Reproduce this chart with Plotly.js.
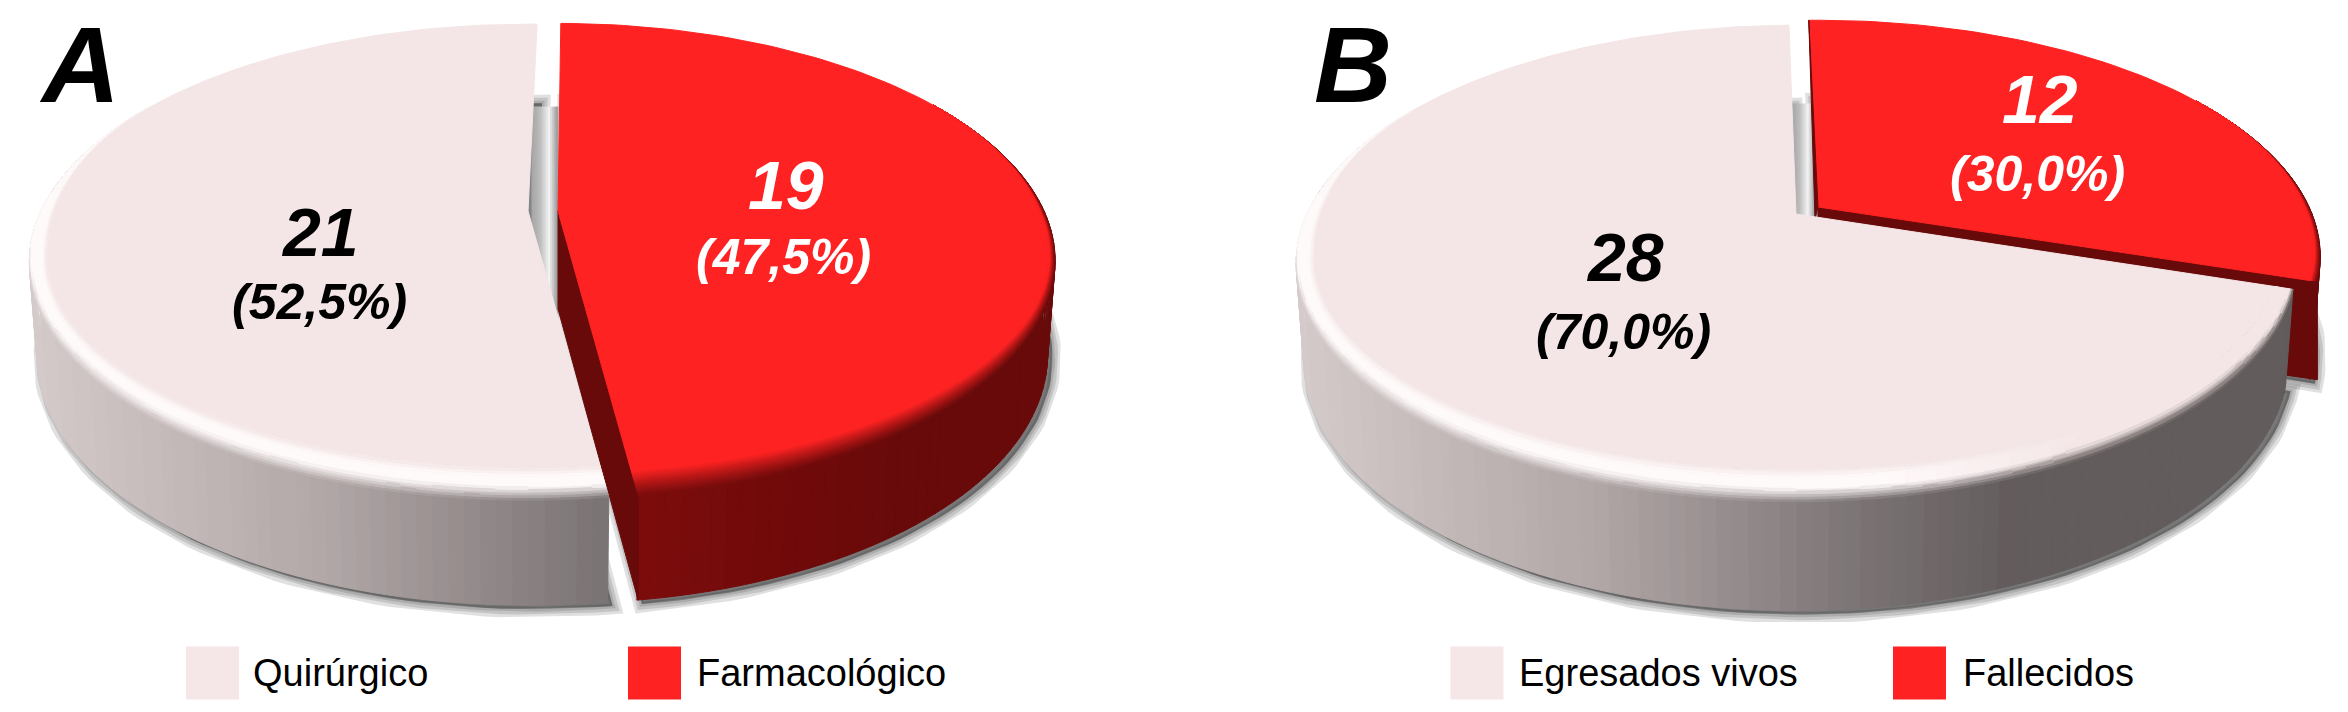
<!DOCTYPE html>
<html>
<head>
<meta charset="utf-8">
<script src="https://cdn.plot.ly/plotly-3.0.1.min.js"></script>
<style>html,body{margin:0;padding:0;background:#fff;overflow:hidden}#chart{width:2348px;height:712px}</style>
</head>
<body>
<div id="chart"></div>
<script>
// ---- data ----
const categoriesA = ['Quirúrgico', 'Farmacológico'];
const valuesA = [21, 19];
const categoriesB = ['Egresados vivos', 'Fallecidos'];
const valuesB = [28, 12];
const panelNames = ['A', 'B'];

// ---- style / geometry ----
const FACE_L = [243, 230, 230], FACE_R = [253, 34, 34];
const LEG_L = '#f5e6e8', LEG_R = '#ff2222';

function clamp(v, a, b) { return Math.max(a, Math.min(b, v)); }
function mix(c1, c2, t) { return c1.map((c, i) => c + (c2[i] - c) * t); }
function ramp(stops, x) {
  if (x <= stops[0][0]) return stops[0][1];
  for (let i = 1; i < stops.length; i++) {
    if (x <= stops[i][0]) return mix(stops[i - 1][1], stops[i][1], (x - stops[i - 1][0]) / (stops[i][0] - stops[i - 1][0]));
  }
  return stops[stops.length - 1][1];
}
function css(c) { return 'rgb(' + c.map(v => Math.round(clamp(v, 0, 255) / 2) * 2).join(',') + ')'; }

const greyStops = [[0, [212, 202, 202]], [300, [176, 166, 166]], [570, [122, 115, 115]], [720, [98, 91, 91]], [1100, [98, 91, 91]]];
const redStops = [[0, [124, 12, 12]], [260, [104, 9, 9]], [700, [104, 9, 9]]];

function makeWedge(o) {
  o.P = function (deg, t) {
    const th = deg * Math.PI / 180, u = Math.sin(th), v = Math.cos(th), w = 1 + o.p * v;
    let x = o.X0 + o.a * u / w, y = o.Y0 - o.b * v / w;
    if (t) {
      const e = clamp((0.45 - v) / 0.6, 0, 1);
      x -= t * e * u * o.insetX;
      y -= t * e * Math.max(0, -v) * o.insetY;
      [[o.s, 1], [o.e, -1]].forEach(([db, sgn]) => {
        if (Math.abs(deg - db) > 28) return;
        const B = o.P(db, 0), dx = B[0] - o.X0, dy = B[1] - o.Y0, L = Math.hypot(dx, dy);
        const nx = -dy / L * sgn, ny = dx / L * sgn;
        const s = (x - o.X0) * nx + (y - o.Y0) * ny;
        if (s < 0 || deg === db) { x -= s * nx; y -= s * ny; }   // the end of the arc stays on the slice's straight edge
      });
    }
    return [x, y];
  };
  o.H = function (deg) { return o.h0 + o.h1 * (-Math.cos(deg * Math.PI / 180)); };
  o.Bot = function (deg) {
    const q = o.P(deg, 0);
    return [o.X0 + (q[0] - o.X0) * 0.985, q[1] + o.H(deg)];
  };
  return o;
}

function newStage() { return new Map(); }
function poly(stage, color, pts) {
  if (!stage.has(color)) stage.set(color, { x: [], y: [] });
  const g = stage.get(color);
  pts.forEach(p => { g.x.push(p[0]); g.y.push(p[1]); });
  g.x.push(pts[0][0], null); g.y.push(pts[0][1], null);
}
const STEP = 1.5;
function angles(w) {
  const r = [];
  for (let d = w.s; d < w.e; d += STEP) r.push(d);
  r.push(w.e);
  return r;
}
function drawShadow(w) {
  const pts = [[w.X0, w.Y0 + w.h0]].concat(angles(w).map(d => w.Bot(d))).map(q => [q[0] + 5, q[1] + 4]);
  [17, 11, 5].forEach(lw => {
    traces.push({
      type: 'scatter', mode: 'lines', x: pts.map(q => q[0]).concat(pts[0][0]), y: pts.map(q => q[1]).concat(pts[0][1]),
      line: { color: 'rgba(0,0,0,0.12)', width: lw }, fill: 'toself', fillcolor: 'rgba(90,90,90,0.3)',
      hoverinfo: 'skip', showlegend: false
    });
  });
}
function drawSide(w, colorOf) {
  const st = newStage(), as = angles(w);
  for (let i = 0; i < as.length - 1; i++) {
    const d0 = as[i], d1 = as[i + 1];
    if (Math.cos(d0 * Math.PI / 180) > 0.45 && Math.cos(d1 * Math.PI / 180) > 0.45) continue;
    const a = w.P(d0, 0), b = w.P(d1, 0), c = w.Bot(d1), e = w.Bot(d0);
    poly(st, css(colorOf((a[0] + b[0]) / 2)), [a, b, c, e]);
  }
  push(st);
}
function drawTop(w, rimColor, face) {
  const st = newStage(), as = angles(w), N = 12;
  for (let k = 0; k < N; k++) {
    const t0 = k / N, t1 = (k + 1) / N;
    for (let i = 0; i < as.length - 1; i++) {
      const d0 = as[i], d1 = as[i + 1];
      if (Math.cos(d0 * Math.PI / 180) > 0.5 && Math.cos(d1 * Math.PI / 180) > 0.5) continue;
      const a = w.P(d0, t0), b = w.P(d1, t0), c = w.P(d1, t1), e = w.P(d0, t1);
      poly(st, css(rimColor((a[0] + b[0]) / 2, (t0 + t1) / 2, (d0 + d1) / 2)), [a, b, c, e]);
    }
  }
  const inner = newStage();
  const pts = [[w.X0, w.Y0]].concat(as.map(d => w.P(d, Math.cos(d * Math.PI / 180) > 0.5 ? 0 : 1)));
  poly(inner, css(face), pts);
  push(inner);
  push(st);
}
function push(stage) {
  stage.forEach((g, color) => traces.push({
    type: 'scatter', mode: 'lines', x: g.x, y: g.y, fill: 'toself', fillcolor: color,
    line: { color: color, width: 1 }, hoverinfo: 'skip', showlegend: false, connectgaps: false
  }));
}
function drawGap(g) {
  const st = newStage(), n = 14;
  const stops = [[0, [165, 165, 165]], [0.3, [185, 185, 185]], [0.68, [242, 242, 242]], [1, [150, 150, 150]]];
  for (let i = 0; i < n; i++) {
    const x0 = g.xl + (g.xr - g.xl) * i / n, x1 = g.xl + (g.xr - g.xl) * (i + 1) / n;
    poly(st, css(ramp(stops, (i + 0.5) / n)), [[x0, g.yt], [x1, g.yt], [x1, g.yb], [x0, g.yb]]);
  }
  push(st);
}
function redWall(w, deg) {
  const st = newStage(), A = [w.X0, w.Y0], B = w.P(deg, 0);
  poly(st, css([104, 10, 10]), [A, B, [B[0], B[1] + w.H(deg)], [A[0], A[1] + w.h0 + 8]]);
  push(st);
}

function drawPie(values, cfg) {
  const sum = values[0] + values[1];
  const split = 360 * values[1] / sum + cfg.splitTilt;   // red slice runs clockwise from 12 o'clock
  const L = makeWedge(Object.assign({}, cfg.light, { s: split, e: 360 + cfg.light.topTilt, insetX: 18, insetY: 32 }));
  const R = makeWedge(Object.assign({}, cfg.red, { s: cfg.red.topTilt, e: split, insetX: 7, insetY: 30 }));
  const left = L.X0 - L.a * 1.02;
  const sideL = x => ramp(greyStops, x - left);
  const sideR = x => ramp(redStops, x - R.X0 - 80);
  drawShadow(R); drawShadow(L);
  drawGap(cfg.gap);
  drawSide(R, sideR);
  redWall(R, split);
  drawTop(R, (x, t) => t < 0.85 ? mix(sideR(x), FACE_R, Math.pow(t / 0.85, 1.2)) : FACE_R, FACE_R);
  if (cfg.sliver) {
    const st = newStage(), A = R.P(R.s, 0);
    poly(st, css([104, 10, 10]), [A, [R.X0, R.Y0], [R.X0 - 3, R.Y0 + 12]]);
    push(st);
  }
  drawSide(L, sideL);
  drawTop(L, (x, t, d) => {
    const v = Math.cos(d * Math.PI / 180);
    const xr = (x - left) / (2 * L.a);
    const W = mix([255, 250, 250], FACE_L, clamp((xr - 0.6) / 0.2, 0, 1));
    const t0 = 0.42 * clamp((-v - 0.1) / 0.5, 0, 1);
    if (t < t0) return mix(sideL(x), W, t / t0);
    if (t < 0.78) return W;
    return mix(W, FACE_L, (t - 0.78) / 0.22);
  }, FACE_L);
}

const traces = [];
drawPie(valuesA, {
  splitTilt: 1.5,
  light: { X0: 528, Y0: 211, a: 487, b: 227, p: 0.215, h0: 90, h1: 15, topTilt: 1.3 },
  red: { X0: 558, Y0: 211, a: 486, b: 227, p: 0.21, h0: 90, h1: 15, topTilt: 0.4 },
  gap: { xl: 532, xr: 558, yt: 107, yb: 322 }
});
drawPie(valuesB, {
  splitTilt: 0,
  light: { X0: 1796, Y0: 214, a: 489, b: 228, p: 0.2075, h0: 93, h1: 16, topTilt: -1 },
  red: { X0: 1818, Y0: 207, a: 491, b: 226, p: 0.21, h0: 93, h1: 16, topTilt: -1.3 },
  gap: { xl: 1792, xr: 1816, yt: 104, yb: 232 },
  sliver: true
});

const legendNames = categoriesA.concat(categoriesB);
const legendColors = [LEG_L, LEG_R, LEG_L, LEG_R];
const legendSwatchX = [212.5, 654.5, 1477, 1919.5];
const legendTextX = [253, 697, 1519, 1963];
const legendY = 673;
traces.push({
  type: 'scatter', mode: 'markers', x: legendSwatchX, y: legendSwatchX.map(() => legendY),
  marker: { symbol: 'square', size: 53, color: legendColors, line: { width: 0 } }, hoverinfo: 'skip', showlegend: false
});
traces.push({
  type: 'scatter', mode: 'text', x: legendTextX, y: legendTextX.map(() => legendY + 3), text: legendNames,
  textposition: 'middle right', textfont: { family: 'Liberation Sans', size: 38, color: '#000' }, hoverinfo: 'skip', showlegend: false
});

function pct(v, vals) { return '(' + (100 * v / (vals[0] + vals[1])).toFixed(1).replace('.', ',') + '%)'; }
function ann(x, y, text, size, color) {
  return { x, y, xref: 'x', yref: 'y', text: '<b><i>' + text + '</i></b>', showarrow: false, xanchor: 'center', yanchor: 'middle',
    font: { family: 'Liberation Sans', size, color } };
}
const annotations = [
  ann(79, 64, panelNames[0], 108, '#000'), ann(1353, 64, panelNames[1], 108, '#000'),
  ann(320, 232, String(valuesA[0]), 68, '#000'), ann(319, 302, pct(valuesA[0], valuesA), 50, '#000'),
  ann(786, 185, String(valuesA[1]), 68, '#fff'), ann(783, 257, pct(valuesA[1], valuesA), 50, '#fff'),
  ann(1625, 257, String(valuesB[0]), 68, '#000'), ann(1623, 332, pct(valuesB[0], valuesB), 50, '#000'),
  ann(2040, 99, String(valuesB[1]), 68, '#fff'), ann(2037, 174, pct(valuesB[1], valuesB), 50, '#fff')
];

Plotly.newPlot('chart', traces, {
  width: 2348, height: 712, margin: { l: 0, r: 0, t: 0, b: 0 },
  paper_bgcolor: '#fff', plot_bgcolor: '#fff', showlegend: false, annotations,
  xaxis: { range: [0, 2348], visible: false, fixedrange: true },
  yaxis: { range: [712, 0], visible: false, fixedrange: true }
}, { displayModeBar: false, staticPlot: true });
</script>
</body>
</html>
